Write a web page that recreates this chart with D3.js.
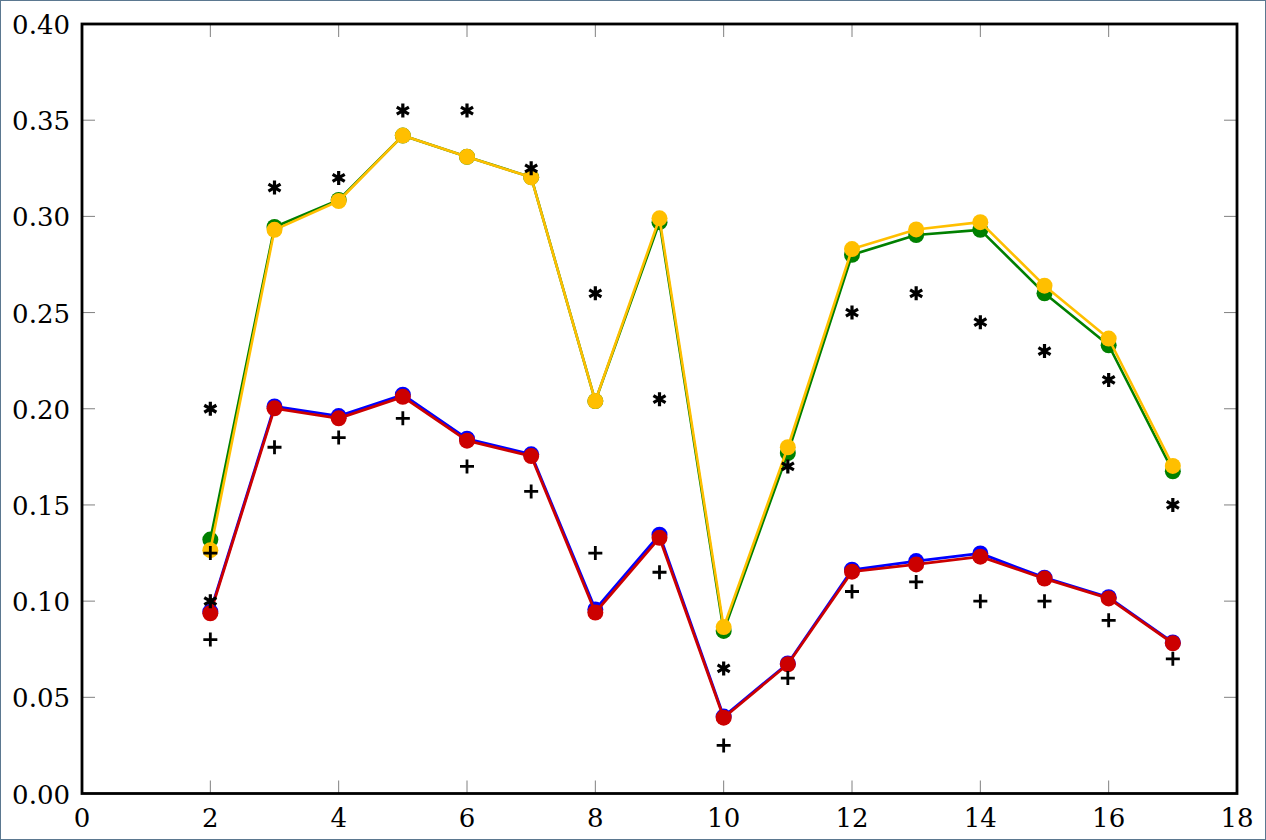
<!DOCTYPE html>
<html>
<head>
<meta charset="utf-8">
<script src="https://cdn.jsdelivr.net/npm/d3@7/dist/d3.min.js"></script>
<style>
  html, body { margin: 0; padding: 0; background: #fff; }
  svg { display: block; }
</style>
</head>
<body>
<svg id="chart" width="1266" height="840"></svg>
<script>
// x positions of the connected series
const xs = [2, 3, 4, 5, 6, 7, 8, 9, 10, 11, 12, 13, 14, 15, 16, 17];

// line + circle series (drawn in this order)
const green  = [0.132, 0.2945, 0.3085, 0.342, 0.331, 0.3204, 0.204, 0.297, 0.0845, 0.177, 0.280, 0.2903, 0.293, 0.260, 0.233, 0.1675];
const yellow = [0.1265, 0.293, 0.308, 0.342, 0.331, 0.3203, 0.204, 0.299, 0.0865, 0.180, 0.283, 0.2932, 0.297, 0.264, 0.2365, 0.1703];
const blue   = [0.0945, 0.2012, 0.1962, 0.2073, 0.1844, 0.1763, 0.0957, 0.1345, 0.0400, 0.0676, 0.1163, 0.1208, 0.1248, 0.1122, 0.1020, 0.0785];
const red    = [0.0937, 0.2002, 0.1950, 0.2062, 0.1834, 0.1754, 0.0941, 0.1329, 0.0394, 0.0672, 0.1153, 0.1191, 0.1231, 0.1117, 0.1014, 0.0781];

// scatter marks
const starX = [2, 2, 3, 4, 5, 6, 7, 8, 9, 10, 11, 12, 13, 14, 15, 16, 17];
const starY = [0.20, 0.10, 0.315, 0.32, 0.355, 0.355, 0.325, 0.26, 0.205, 0.065, 0.17, 0.25, 0.26, 0.245, 0.23, 0.215, 0.15];
const plusX = [2, 2, 3, 4, 5, 6, 7, 8, 9, 10, 11, 12, 13, 14, 15, 16, 17];
const plusY = [0.125, 0.08, 0.18, 0.185, 0.195, 0.17, 0.157, 0.125, 0.115, 0.025, 0.06, 0.105, 0.11, 0.10, 0.10, 0.09, 0.07];

// axis ticks
const xTicks = [0, 2, 4, 6, 8, 10, 12, 14, 16, 18];
const yTicks = [0, 0.05, 0.10, 0.15, 0.20, 0.25, 0.30, 0.35, 0.40];

const series = [
    {values: green,  color: '#008000', width: 2.6},
    {values: yellow, color: '#ffbf00', width: 2.6},
    {values: blue,   color: '#0000ff', width: 2.8},
    {values: red,    color: '#cc0000', width: 2.8}
];

const FONT = "'DejaVu Serif', 'Liberation Serif', serif";
const FONT_SIZE = 26;

const svg = d3.select('#chart');
const plotLeft = 82, plotRight = 1237, plotTop = 24, plotBottom = 793.5;

const x = d3.scaleLinear().domain([0, 18]).range([plotLeft, plotRight]);
const y = d3.scaleLinear().domain([0, 0.40]).range([plotBottom, plotTop]);

// outer border of the picture
svg.append('rect')
    .attr('x', 0.5).attr('y', 0.5)
    .attr('width', 1265).attr('height', 839)
    .attr('fill', 'none')
    .attr('stroke', '#5b7890')
    .attr('stroke-width', 1);

// inner ticks on all four sides
const tickLen = 13;
const tickG = svg.append('g').attr('stroke', '#808080').attr('stroke-width', 1);
xTicks.forEach(t => {
    tickG.append('line').attr('x1', x(t)).attr('x2', x(t)).attr('y1', plotBottom).attr('y2', plotBottom - tickLen);
    tickG.append('line').attr('x1', x(t)).attr('x2', x(t)).attr('y1', plotTop).attr('y2', plotTop + tickLen);
});
yTicks.forEach(t => {
    tickG.append('line').attr('y1', y(t)).attr('y2', y(t)).attr('x1', plotLeft).attr('x2', plotLeft + tickLen);
    tickG.append('line').attr('y1', y(t)).attr('y2', y(t)).attr('x1', plotRight).attr('x2', plotRight - tickLen);
});

// tick labels
svg.append('g').selectAll('text.xl')
    .data(xTicks)
    .enter().append('text')
    .attr('font-family', FONT)
    .attr('font-size', FONT_SIZE)
    .attr('x', d => x(d))
    .attr('y', 827)
    .attr('text-anchor', 'middle')
    .text(d => d);

svg.append('g').selectAll('text.yl')
    .data(yTicks)
    .enter().append('text')
    .attr('font-family', FONT)
    .attr('font-size', FONT_SIZE)
    .attr('x', 70)
    .attr('y', d => y(d) + 10)
    .attr('text-anchor', 'end')
    .text(d => d3.format('.2f')(d));

// lines and circle markers
const line = d3.line().x((d, i) => x(xs[i])).y(d => y(d));
series.forEach(s => {
    const g = svg.append('g');
    g.append('path')
        .datum(s.values)
        .attr('d', line)
        .attr('fill', 'none')
        .attr('stroke', s.color)
        .attr('stroke-width', s.width)
        .attr('stroke-linejoin', 'round');
    g.selectAll('circle')
        .data(s.values)
        .enter().append('circle')
        .attr('cx', (d, i) => x(xs[i]))
        .attr('cy', d => y(d))
        .attr('r', 8)
        .attr('fill', s.color);
});

// asterisk marks (vertical spoke + two at +-30deg)
const starR = 7;
const starPath = [90, 30, -30].map(a => {
    const r = a * Math.PI / 180;
    const dx = starR * Math.cos(r), dy = starR * Math.sin(r);
    return `M${-dx},${dy}L${dx},${-dy}`;
}).join('');
svg.append('g').selectAll('path')
    .data(starY)
    .enter().append('path')
    .attr('transform', (d, i) => `translate(${x(starX[i])},${y(d)})`)
    .attr('d', starPath)
    .attr('stroke', '#000')
    .attr('stroke-width', 3.2)
    .attr('fill', 'none');

// plus marks
const plusR = 7;
svg.append('g').selectAll('path')
    .data(plusY)
    .enter().append('path')
    .attr('transform', (d, i) => `translate(${x(plusX[i])},${y(d)})`)
    .attr('d', `M${-plusR},0L${plusR},0M0,${-plusR}L0,${plusR}`)
    .attr('stroke', '#000')
    .attr('stroke-width', 2.8)
    .attr('fill', 'none');

// plot frame
svg.append('rect')
    .attr('x', plotLeft).attr('y', plotTop)
    .attr('width', plotRight - plotLeft).attr('height', plotBottom - plotTop)
    .attr('fill', 'none')
    .attr('stroke', '#000')
    .attr('stroke-width', 2.8);
</script>
</body>
</html>
